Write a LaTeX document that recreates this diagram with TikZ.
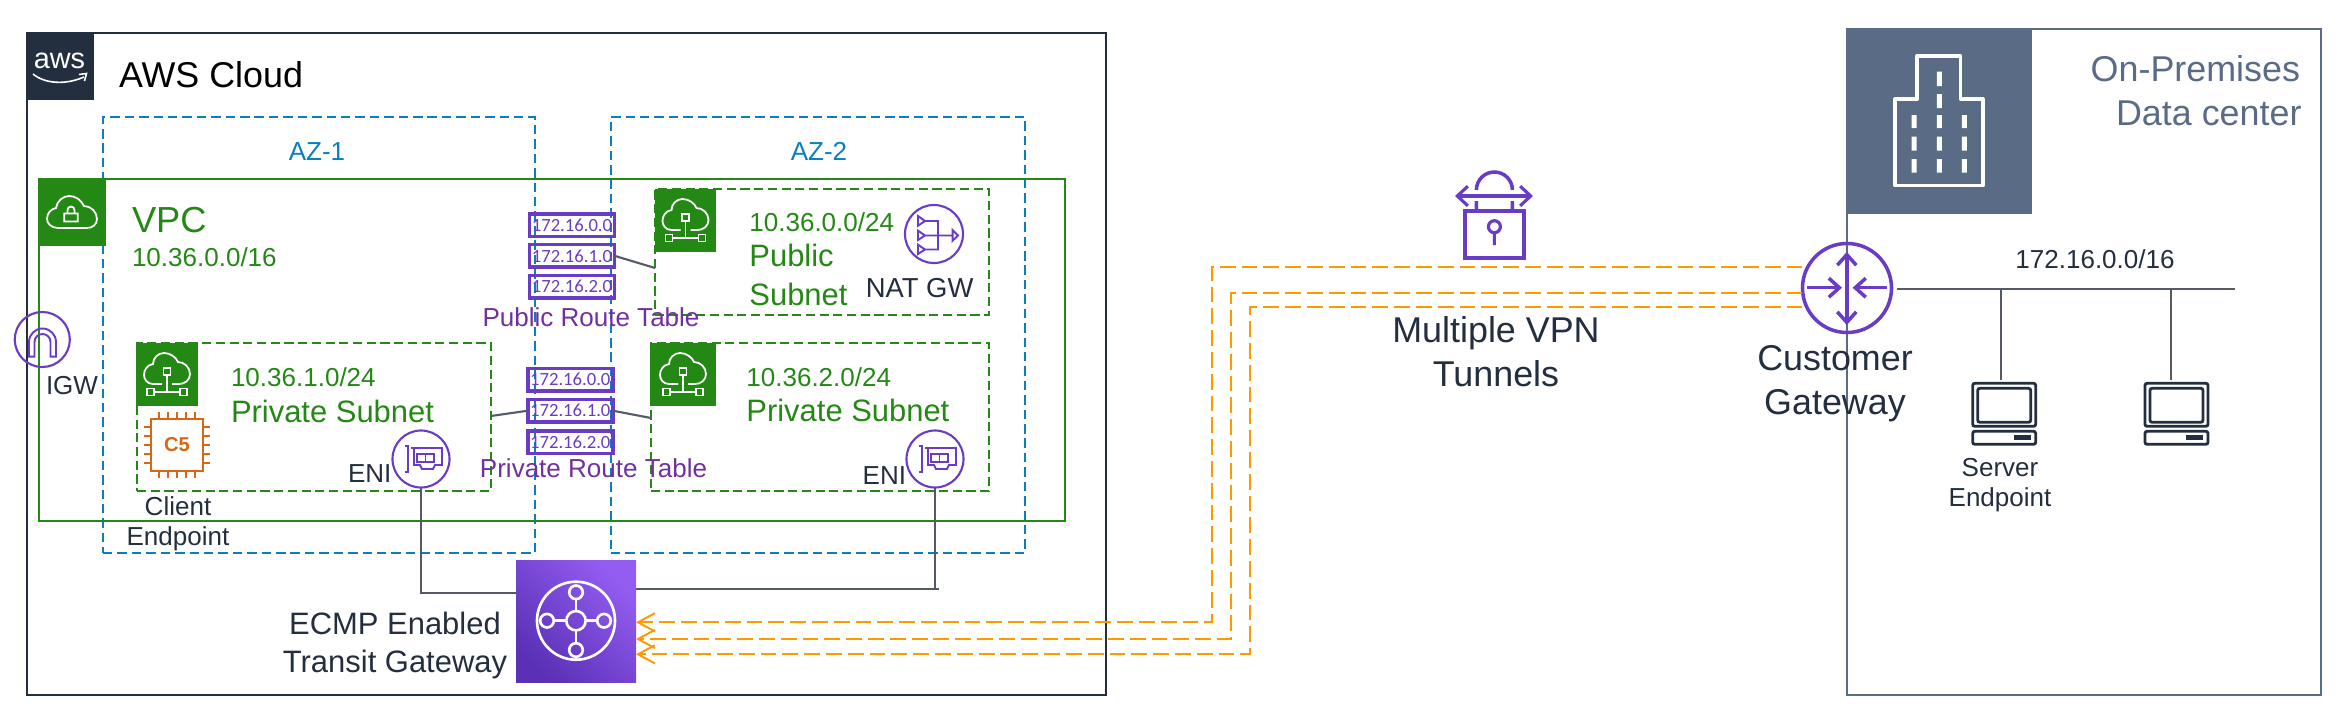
\documentclass[tikz,border=0pt]{standalone}
\usepackage{fontspec}
\setmainfont{Liberation Sans}
\newfontfamily\rowfont{Carlito}
\usetikzlibrary{arrows.meta,fit}
\definecolor{awsdark}{HTML}{232F3E}
\definecolor{azblue}{HTML}{0A7FBE}
\definecolor{vpcgreen}{HTML}{248814}
\definecolor{nicpurple}{HTML}{693CC5}
\definecolor{tblpurple}{HTML}{7030A0}
\definecolor{wiregray}{HTML}{545B64}
\definecolor{premgray}{HTML}{5A6B86}
\definecolor{tunorange}{HTML}{FF9900}
\definecolor{chiporange}{HTML}{D86613}
\definecolor{tgwlow}{HTML}{5A30B5}
\definecolor{tgwhigh}{HTML}{945DF2}
\tikzset{
	every node/.style={inner sep=0pt,outer sep=0pt},
	awsbox/.style={draw=awsdark,line width=0.65pt},
	prembox/.style={draw=premgray,line width=0.65pt},
	azbox/.style={draw=azblue,line width=0.55pt,dash pattern=on 2.7pt off 1.4pt},
	vpcbox/.style={draw=vpcgreen,line width=0.6pt},
	subnetbox/.style={draw=vpcgreen,line width=0.55pt,dash pattern=on 2.6pt off 1.3pt},
	greensq/.style={fill=vpcgreen},
	rowbox/.style={draw=nicpurple,line width=1pt,minimum width=0.85cm,minimum height=0.225cm,text=nicpurple,font=\rowfont\fontsize{5.3}{6}\selectfont},
	iconring/.style={circle,draw=nicpurple,line width=0.6pt},
	wire/.style={draw=wiregray,line width=0.6pt},
	tunnel/.style={draw=tunorange,line width=0.55pt,dash pattern=on 4.5pt off 1.7pt,-{Straight Barb[length=4.8pt,width=5.2pt]}},
	darktxt/.style={text=awsdark,align=center},
	greentxt/.style={text=vpcgreen,anchor=base west},
	tabletxt/.style={text=tblpurple,anchor=base},
	smalltxt/.style={font=\fontsize{7.4}{8.6}\selectfont},
	midtxt/.style={font=\fontsize{8.8}{10.8}\selectfont},
	bigtxt/.style={font=\fontsize{10.2}{12.5}\selectfont},
	subnetpic/.pic={
		\draw[white,line width=0.5pt] (-5,13) -- (-14,13) .. controls (-20,13) and (-23,8) .. (-23,4) .. controls (-23,-1) and (-20,-6) .. (-14,-7) .. controls (-14,-13) and (-9,-18) .. (-3,-18) .. controls (3,-18) and (9,-14) .. (11,-9) .. controls (17,-9) and (23,-4) .. (23,3) .. controls (23,9) and (18,13) .. (12,13) -- (5,13);
		\draw[white,line width=0.5pt] (-3.5,-3) rectangle (3.5,4) (0,4) -- (0,21) (-13,21) -- (13,21) (-20,17.5) rectangle (-13,24.5) (13,17.5) rectangle (20,24.5);
	},
	enipic/.pic={
		\draw[nicpurple,line width=0.55pt] (-16,-13) -- (-13,-13) -- (-13,13) -- (-16,13);
		\draw[nicpurple,line width=0.55pt] (-10,-11) -- (21,-11) -- (21,6) -- (14,6) -- (12,10) -- (1,10) -- (-1,6) -- (-7,6) -- (-7,-11);
		\draw[nicpurple,line width=0.55pt] (-4,-5) rectangle (13,3) (4.5,-5) -- (4.5,3);
	},
	serverpic/.pic={
		\draw[awsdark,line width=0.8pt,rounded corners=0.6pt] (0,0) rectangle (63,43) (5,5) rectangle (58,39) (0,48) rectangle (63,61);
		\fill[awsdark] (41,52) rectangle (58,57);
	},
}
\begin{document}
\begin{tikzpicture}[x=0.01cm,y=-0.01cm]
	\useasboundingbox (0,0) rectangle (2350,724);
	\node (cloud) [awsbox,fit={(27,33) (1106,695)}] {};
	\node (az1) [azbox,fit={(103,117) (535,553)}] {};
	\node (az2) [azbox,fit={(611,117) (1025,553)}] {};
	\node (vpc) [vpcbox,fit={(39,179) (1065,521)}] {};
	\node (sub1) [subnetbox,fit={(137,343) (491,491)}] {};
	\node (sub2) [subnetbox,fit={(655,189) (989,315)}] {};
	\node (sub3) [subnetbox,fit={(651,343) (989,491)}] {};
	\node (logo) [fill=awsdark,fit={(27,33) (94,99.5)}] {};
	\node (logotxt) at (59.5,68) [anchor=base,text=white,font=\fontsize{8.2}{9}\selectfont] {aws};
	\draw[white,line width=0.45pt] (33,74) .. controls (45,84) and (66,85) .. (84,77);
	\draw[white,line width=0.45pt] (79,74.5) -- (86.5,73.5) -- (84.5,81);
	\node (cloudtxt) at (119,87) [anchor=base west,text=black,font=\fontsize{10.2}{12}\selectfont] {AWS Cloud};
	\node (az1txt) at (317,160) [anchor=base,text=azblue,smalltxt] {AZ-1};
	\node (az2txt) at (819,160) [anchor=base,text=azblue,smalltxt] {AZ-2};
	\node (vpcsq) [greensq,fit={(38,178) (106,245.7)}] {};
	\draw[white,line width=0.5pt] (60,228) -- (58,228) .. controls (51,228) and (47,223) .. (47,219) .. controls (47,213) and (51,209) .. (56,208) .. controls (57,201) and (63,196) .. (69,196) .. controls (76,196) and (81,200) .. (84,206) .. controls (91,206) and (97,212) .. (97,219) .. controls (97,224) and (93,228) .. (87,228) -- cycle;
	\draw[white,line width=0.5pt] (64.3,213.5) rectangle (77.7,221.5) (67.5,213.5) -- (67.5,210) arc[start angle=180,end angle=360,radius=3.5] -- (74.5,213.5);
	\node (vpctxt) at (132,232) [greentxt,font=\fontsize{10.3}{12}\selectfont] {VPC};
	\node (vpccidr) at (132,266.7) [greentxt,smalltxt] {10.36.0.0/16};
	\node (sq1) [greensq,fit={(136,343) (198,405.7)}] {};
	\pic at (167,371) {subnetpic};
	\node (sq2) [greensq,fit={(655,189) (716,251.7)}] {};
	\pic at (685.5,217) {subnetpic};
	\node (sq3) [greensq,fit={(650,342.7) (716,405.7)}] {};
	\pic at (683,371) {subnetpic};
	\node (sub1cidr) at (231,386.7) [greentxt,smalltxt] {10.36.1.0/24};
	\node (sub1txt) at (231,422) [greentxt,midtxt] {Private Subnet};
	\node (sub2cidr) at (749.4,231.7) [greentxt,smalltxt] {10.36.0.0/24};
	\node (sub2txta) at (749.4,266.7) [greentxt,midtxt] {Public};
	\node (sub2txtb) at (749.4,305) [greentxt,midtxt] {Subnet};
	\node (sub3cidr) at (746.4,386) [greentxt,smalltxt] {10.36.2.0/24};
	\node (sub3txt) at (746.4,421.7) [greentxt,midtxt] {Private Subnet};
	% chip
	\draw[chiporange,line width=0.65pt] (151,419) rectangle (203,471);
	\draw[chiporange,line width=0.55pt] (159,412) -- (159,419) (168,412) -- (168,419) (177,412) -- (177,419) (186,412) -- (186,419) (195,412) -- (195,419) (159,471) -- (159,478) (168,471) -- (168,478) (177,471) -- (177,478) (186,471) -- (186,478) (195,471) -- (195,478) (144,427) -- (151,427) (144,436) -- (151,436) (144,445) -- (151,445) (144,454) -- (151,454) (144,463) -- (151,463) (203,427) -- (210,427) (203,436) -- (210,436) (203,445) -- (210,445) (203,454) -- (210,454) (203,463) -- (210,463);
	\node (chiptxt) at (177,445) [text=chiporange,font=\bfseries\fontsize{5.7}{6}\selectfont] {C5};
	\node (clienttxt) at (178,545.7) [anchor=base,darktxt,smalltxt] {Client\\Endpoint};
	% internet gateway
	\node (igw) at (42.3,339.5) [iconring,minimum size=0.55cm] {};
	\draw[nicpurple,line width=0.55pt] (29,356.7) -- (29,342) arc[start angle=180,end angle=360,radius=13.5] -- (56,356.7) -- (50.5,356.7) -- (50.5,342) arc[start angle=360,end angle=180,radius=8] -- (34.5,356.7) -- cycle;
	\node (igwtxt) at (46,394) [anchor=base west,text=awsdark,smalltxt] {IGW};
	% route tables
	\node (pub1) at (572,225.3) [rowbox] {172.16.0.0};
	\node (pub2) at (572,255.8) [rowbox] {172.16.1.0};
	\node (pub3) at (572,286.6) [rowbox] {172.16.2.0};
	\node (pubtxt) at (591,326) [tabletxt,smalltxt] {Public Route Table};
	\node (prv1) at (570.3,379.7) [rowbox] {172.16.0.0};
	\node (prv2) at (570.3,410.7) [rowbox] {172.16.1.0};
	\node (prv3) at (570.3,442) [rowbox] {172.16.2.0};
	\node (prvtxt) at (593.5,477) [tabletxt,smalltxt] {Private Route Table};
	\draw[wire] (pub2.east) -- (sub2.west |- 0,268);
	\draw[wire] (sub1.east |- 0,416) -- (prv2.west);
	\draw[wire] (prv2.east) -- (sub3.west |- 0,418);
	% nat gateway and interfaces
	\node (nat) at (934,234) [iconring,minimum size=0.58cm] {};
	\draw[nicpurple,line width=0.55pt] (918,216) -- (925,221) -- (918,225.7) -- cycle (918,230.7) -- (925,235.5) -- (918,240) -- cycle (918,244.7) -- (925,249.5) -- (918,254) -- cycle (952.6,230) -- (958,235.5) -- (952.6,240.7) -- cycle (925,221) -- (938,221) -- (938,249.5) -- (925,249.5) (925,235.5) -- (952.6,235.5);
	\node (nattxt) at (865.8,297) [anchor=base west,text=awsdark,font=\fontsize{7.8}{9}\selectfont] {NAT GW};
	\node (eni1) at (421,459) [iconring,minimum size=0.57cm] {};
	\pic at (421,459) {enipic};
	\node (eni1txt) at (348,482.7) [anchor=base west,text=awsdark,smalltxt] {ENI};
	\node (eni2) at (935,459) [iconring,minimum size=0.57cm] {};
	\pic at (935,459) {enipic};
	\node (eni2txt) at (862.7,484) [anchor=base west,text=awsdark,smalltxt] {ENI};
	% transit gateway
	\node (tgw) [bottom color=tgwlow,top color=tgwhigh,shading angle=-45,fit={(516,560) (636,682)}] {};
	\draw[white,line width=0.75pt] (576,620.7) circle[radius=39] (576,620.7) circle[radius=9.7] (576,592.3) circle[radius=6.8] (576,650) circle[radius=6.8] (547,620.7) circle[radius=6.8] (604,620.7) circle[radius=6.8];
	\draw[white,line width=0.75pt] (576,599) -- (576,611) (576,630.4) -- (576,643) (553.8,620.7) -- (566.3,620.7) (585.7,620.7) -- (597.2,620.7);
	\node (tgwtxt) at (395,672.3) [anchor=base,darktxt,midtxt] {ECMP Enabled\\Transit Gateway};
	\coordinate (eni2end) at (939,589);
	\draw[wire] (eni1.south) |- (tgw.west |- 0,592.7);
	\draw[wire] (eni2.south) -- (eni2.south |- eni2end);
	\draw[wire] (tgw.east |- eni2end) -- (eni2end);
	% on premises
	\node (prem) [prembox,fit={(1847,29) (2321,695)}] {};
	\node (premsq) [fill=premgray,fit={(1846,28) (2032,213.7)}] {};
	\draw[white,line width=1.1pt,line join=round] (1917.2,99) -- (1917.2,56) -- (1960.5,56) -- (1960.5,99) -- (1982.7,99) -- (1982.7,185.5) -- (1895.4,185.5) -- (1895.4,99) -- cycle;
	\fill[white] (1936.9,71.7) rectangle (1941.9,86) (1936.9,94) rectangle (1941.9,108) (1936.9,115) rectangle (1941.9,128) (1936.9,136.7) rectangle (1941.9,150.7) (1936.9,159) rectangle (1941.9,172.7) (1911.5,115) rectangle (1916.5,128) (1911.5,136.7) rectangle (1916.5,150.7) (1911.5,159) rectangle (1916.5,172.7) (1961.8,115) rectangle (1966.8,128) (1961.8,136.7) rectangle (1966.8,150.7) (1961.8,159) rectangle (1966.8,172.7);
	\node (premtxta) at (2300,81.7) [anchor=base east,text=premgray,bigtxt] {On-Premises};
	\node (premtxtb) at (2301.5,125) [anchor=base east,text=premgray,bigtxt] {Data center};
	\node (lantxt) at (2095,268.3) [anchor=base,text=awsdark,smalltxt] {172.16.0.0/16};
	% customer gateway
	\node (cgw) at (1847,288) [iconring,line width=1pt,minimum size=0.89cm] {};
	\draw[nicpurple,line width=1pt,{Straight Barb[length=3pt,width=5.4pt]}-{Straight Barb[length=3pt,width=5.4pt]}] (1846.8,252) -- (1846.8,325);
	\draw[nicpurple,line width=1pt,-{Straight Barb[length=3pt,width=5.4pt]}] (1807.4,287.7) -- (1842,287.7);
	\draw[nicpurple,line width=1pt,-{Straight Barb[length=3pt,width=5.4pt]}] (1886.6,287.7) -- (1852.6,287.7);
	\node (cgwtxt) at (1835,414) [anchor=base,darktxt,bigtxt] {Customer\\Gateway};
	\coordinate (lanend) at (2235,289);
	\draw[wire] (cgw.east |- lanend) ++(5,0) -- (lanend);
	\pic at (1972.7,383.3) {serverpic};
	\pic at (2145,383.3) {serverpic};
	\draw[wire] (2000.8,289) -- (2000.8,380);
	\draw[wire] (2171,289) -- (2171,380);
	\node (srvtxt) at (2000,506.7) [anchor=base,darktxt,smalltxt] {Server\\Endpoint};
	% tunnels
	\draw[tunnel] (cgw.west |- 0,267) -| (1211.6,622.3) -- (tgw.east |- 0,622.3);
	\draw[tunnel] (cgw.west |- 0,293) -| (1231,639) -- (tgw.east |- 0,639);
	\draw[tunnel] (cgw.west |- 0,306.7) -| (1250,654.3) -- (tgw.east |- 0,654.3);
	% vpn lock
	\draw[nicpurple,line width=1pt] (1465,211) rectangle (1524,258);
	\draw[nicpurple,line width=1pt] (1476.4,211) -- (1476.4,201) (1512.4,211) -- (1512.4,201) (1476.4,190) arc[start angle=180,end angle=360,radius=18];
	\draw[nicpurple,line width=0.9pt,{Straight Barb[length=3pt,width=5.6pt]}-{Straight Barb[length=3pt,width=5.6pt]}] (1455,196) -- (1533,196);
	\draw[nicpurple,line width=0.9pt] (1494.4,226.7) circle[radius=6] (1494.4,232.7) -- (1494.4,245);
	\node (vpntxt) at (1496,386.7) [anchor=base,darktxt,bigtxt] {Multiple VPN\\Tunnels};
\end{tikzpicture}
\end{document}
